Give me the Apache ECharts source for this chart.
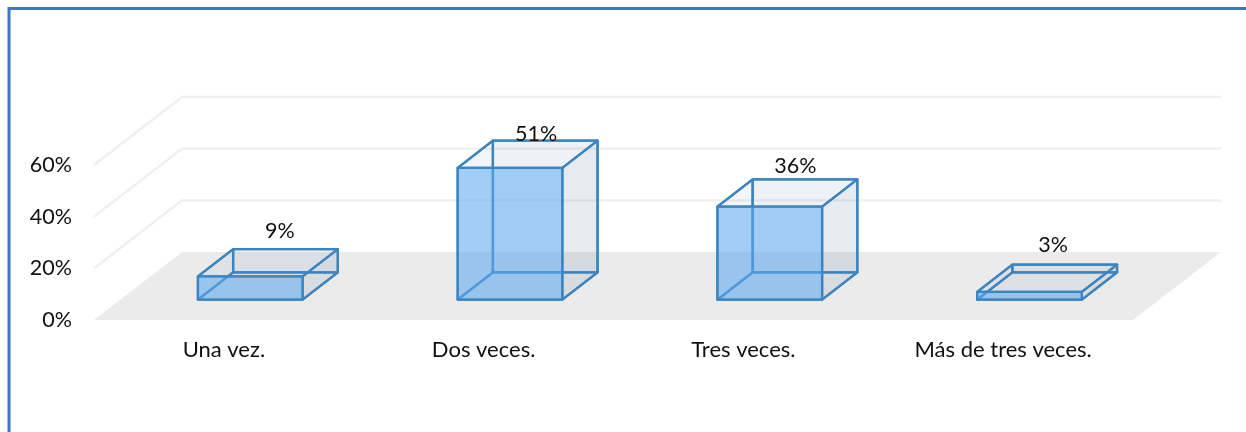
<!DOCTYPE html>
<html>
<head>
<meta charset="utf-8">
<style>html,body{margin:0;padding:0;background:#fff}#c{width:1246px;height:432px}</style>
<script src="https://cdn.jsdelivr.net/npm/echarts@6/dist/echarts.min.js"></script>
</head>
<body>
<div id="c"></div>
<script>
const categories = ['Una vez.', 'Dos veces.', 'Tres veces.', 'Más de tres veces.'];
const values = [9, 51, 36, 3];
const valueTicks = [0, 20, 40, 60];

const DEPTH_X = 88, DEPTH_Y = -68;
const FONT = 'Lato';
const TEXT = '#111';
const EDGE = '#3d85c0';
const LABEL_SHIFT_X = [29.5, 26, 25.5, 23.5];
const LABEL_SHIFT_Y = [0, 0, -3, 0];

const chart = echarts.init(document.getElementById('c'), null, {renderer: 'canvas'});

function renderFloor(params, api) {
  const r = params.coordSys;
  const b = r.y + r.height;
  return {
    type: 'polygon',
    shape: {points: [[r.x, b], [r.x + r.width, b], [r.x + r.width + DEPTH_X, b + DEPTH_Y], [r.x + DEPTH_X, b + DEPTH_Y]]},
    style: {fill: '#ebebeb'}
  };
}
function renderGrid(params, api) {
  const r = params.coordSys;
  const v = api.value(1);
  const y = api.coord([0, v])[1];
  return {
    type: 'polyline',
    shape: {points: [[r.x, y], [r.x + DEPTH_X, y + DEPTH_Y], [r.x + r.width + DEPTH_X, y + DEPTH_Y]]},
    style: {fill: null, stroke: '#efefef', lineWidth: 2.4}
  };
}
function renderBar(params, api) {
  const i = api.value(0), v = api.value(1);
  const c0 = api.coord([i, 0]), cv = api.coord([i, v]);
  const w = api.size([1, 0])[0] * 0.403;
  const ox = DEPTH_X * 0.3, oy = DEPTH_Y * 0.3;
  const dx = DEPTH_X * 0.4, dy = DEPTH_Y * 0.4;
  const xl = c0[0] + ox - w / 2, xr = xl + w;
  const yb = c0[1] + oy, yt = cv[1] + oy;
  const P = (x, y) => [x, y];
  const face = (pts, fill) => ({
    type: 'polygon', shape: {points: pts},
    style: {fill: fill, stroke: EDGE, lineWidth: 2.3, lineJoin: 'round'}
  });
  const labelY = c0[1] + DEPTH_Y - (c0[1] - cv[1]) * 0.895 + LABEL_SHIFT_Y[i];
  return {
    type: 'group',
    children: [
      face([P(xl + dx, yt + dy), P(xr + dx, yt + dy), P(xr + dx, yb + dy), P(xl + dx, yb + dy)], 'rgba(70,110,150,0.06)'),
      face([P(xl, yt), P(xl + dx, yt + dy), P(xl + dx, yb + dy), P(xl, yb)], 'rgba(70,110,150,0.03)'),
      face([P(xl, yb), P(xr, yb), P(xr + dx, yb + dy), P(xl + dx, yb + dy)], 'rgba(70,110,150,0.05)'),
      face([P(xr, yt), P(xr + dx, yt + dy), P(xr + dx, yb + dy), P(xr, yb)], 'rgba(70,110,150,0.08)'),
      face([P(xl, yt), P(xr, yt), P(xr + dx, yt + dy), P(xl + dx, yt + dy)], 'rgba(70,110,150,0.03)'),
      face([P(xl, yt), P(xr, yt), P(xr, yb), P(xl, yb)], 'rgba(91,170,240,0.55)'),
      {
        type: 'text',
        style: {
          x: xl + w / 2 + LABEL_SHIFT_X[i], y: labelY,
          text: v + '%', align: 'center', verticalAlign: 'middle',
          font: '21.5px ' + FONT, fill: TEXT
        }
      }
    ]
  };
}

chart.setOption({
  animation: false,
  backgroundColor: '#fff',
  graphic: [{
    type: 'polyline', silent: true, z: 100,
    shape: {points: [[9, 432], [9, 8.5], [1246, 8.5]]},
    style: {fill: null, stroke: '#4472c4', lineWidth: 3}
  }],
  grid: {left: 94, right: 113, top: 165, bottom: 112},
  xAxis: {
    type: 'category', data: categories,
    axisLine: {show: false}, axisTick: {show: false}, splitLine: {show: false},
    axisLabel: {color: TEXT, fontFamily: FONT, fontSize: 22, margin: 19, interval: 0}
  },
  yAxis: {
    type: 'value', min: 0, max: 60, interval: 20,
    axisLine: {show: false}, axisTick: {show: false}, splitLine: {show: false},
    axisLabel: {color: TEXT, fontFamily: FONT, fontSize: 21.5, margin: 22, padding: [2, 0, 0, 0], formatter: '{value}%'}
  },
  series: [
    {type: 'custom', renderItem: renderFloor, data: [[0, 0]], clip: false, silent: true, z: 1},
    {type: 'custom', renderItem: renderGrid, data: valueTicks.slice(1).map(v => [0, v]), clip: false, silent: true, z: 2},
    {type: 'custom', renderItem: renderBar, data: values.map((v, i) => [i, v]), clip: false, silent: true, z: 3}
  ]
});
</script>
</body>
</html>
